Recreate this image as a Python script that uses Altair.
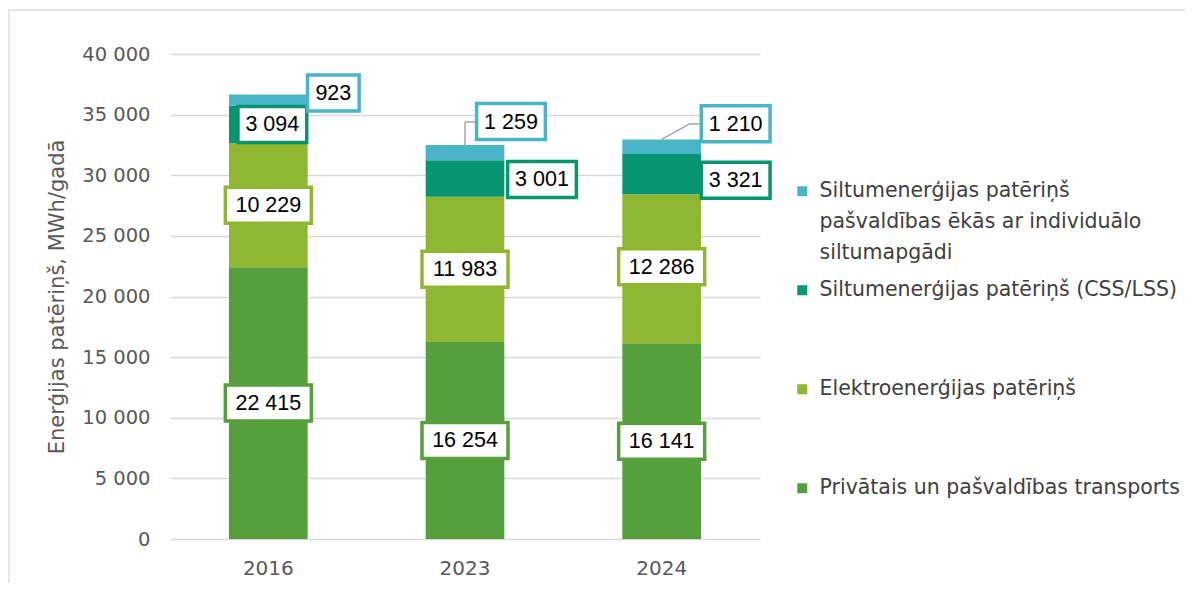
import altair as alt
import pandas as pd

# ---------------- data ----------------
years = ["2016", "2023", "2024"]
series_names = [
    "Privātais un pašvaldības transports",
    "Elektroenerģijas patēriņš",
    "Siltumenerģijas patēriņš (CSS/LSS)",
    "Siltumenerģijas patēriņš pašvaldības ēkās ar individuālo siltumapgādi",
]
transport = [22415, 16254, 16141]
electricity = [10229, 11983, 12286]
heat_district = [3094, 3001, 3321]
heat_individual = [923, 1259, 1210]
y_ticks = [0, 5000, 10000, 15000, 20000, 25000, 30000, 35000, 40000]
y_title = "Enerģijas patēriņš, MWh/gadā"

# ---------------- styles ----------------
series_colors = ["#55a03c", "#8fb731", "#089672", "#4bb5c8"]
legend_order = [3, 2, 1, 0]
label_offsets = {  # pixel offsets of value boxes (x, y)
    ("2016", 2): (4, 0),
    ("2016", 3): (65, -7),
    ("2023", 2): (77, 1),
    ("2023", 3): (46, -31),
    ("2024", 1): (0, -2),
    ("2024", 2): (74, 6),
    ("2024", 3): (74, -23),
}
leaders = {  # leader line segments for top labels: (x0, y0, x1, y1) pixel offsets from bar top
    "2023": [(0, 0, 0, -23), (0, -23, 10, -23)],
    "2024": [(0, 0, 28, -15.5), (28, -15.5, 38, -15.5)],
}
FONT = "Liberation Sans"
AXIS_FONT = "DejaVu Sans"
LEGEND_FONT = "DejaVu Sans"

values = [transport, electricity, heat_district, heat_individual]
rows = []
for yi, year in enumerate(years):
    base = 0
    for si, name in enumerate(series_names):
        v = values[si][yi]
        lab = f"{v:,}".replace(",", " ")
        nd = sum(c.isdigit() for c in lab)
        hw = 8.6 * nd
        hh = 18
        rows.append(dict(
            year=year, series=name, order=si, value=v, start=base, end=base + v,
            mid=base + v / 2, label=lab,
            path=f"M{-hw},{-hh}H{hw}V{hh}H{-hw}Z",
        ))
        base += v
df = pd.DataFrame(rows)
totals = df.groupby("year", as_index=False)["end"].max().rename(columns={"end": "total"})

color_domain = [series_names[i] for i in legend_order]
color_range = [series_colors[i] for i in legend_order]
color_scale = alt.Scale(domain=color_domain, range=color_range)

x_scale = alt.Scale(domain=years, paddingInner=0.6, paddingOuter=0.3)
y_scale = alt.Scale(domain=[0, 40000], nice=False)

long_name = series_names[3]
legend_expr = (
    f"datum.label == '{long_name}' ? "
    "['Siltumenerģijas patēriņš', 'pašvaldības ēkās ar individuālo', 'siltumapgādi'] : "
    "[datum.label, '', '']"
)

bars = alt.Chart(df).mark_bar().encode(
    x=alt.X("year:N", scale=x_scale, title=None,
            axis=alt.Axis(labelAngle=0, domain=False, ticks=False, labelFont=AXIS_FONT,
                          labelFontSize=20, labelColor="#595959", labelPadding=19)),
    y=alt.Y("start:Q", scale=y_scale, title=y_title,
            axis=alt.Axis(values=y_ticks, domain=False, ticks=False, labelFont=AXIS_FONT,
                          labelFontSize=19.5, labelColor="#595959", labelPadding=20,
                          gridColor="#d9d9d9", gridWidth=1.5,
                          labelExpr="replace(format(datum.value, ','), ',', ' ')",
                          titleFont=AXIS_FONT, titleFontSize=21, titleFontWeight="normal",
                          titleColor="#595959", titlePadding=14)),
    y2="end:Q",
    color=alt.Color("series:N", scale=color_scale, sort=color_domain,
                    legend=alt.Legend(orient="none", legendX=622, legendY=127, title=None,
                                      symbolType="square", symbolSize=100,
                                      symbolStrokeWidth=0, labelExpr=legend_expr,
                                      labelLimit=600, labelFont=LEGEND_FONT,
                                      labelFontSize=20.5, labelColor="#404040",
                                      labelOffset=7, rowPadding=16)),
)

layers = [bars]

# leader lines
for year, segs in leaders.items():
    for (x0, y0, x1, y1) in segs:
        layers.append(
            alt.Chart(totals).transform_filter(alt.datum.year == year)
            .mark_rule(color="#a6a6a6", strokeWidth=1.5,
                       xOffset=x0, yOffset=y0, x2Offset=x1, y2Offset=y1)
            .encode(x=alt.X("year:N", scale=x_scale), x2="year:N",
                    y=alt.Y("total:Q", scale=y_scale), y2="total:Q")
        )

# value boxes and texts
for r in rows:
    dx, dy = label_offsets.get((r["year"], r["order"]), (0, 0))
    sub = alt.Chart(df).transform_filter(
        (alt.datum.year == r["year"]) & (alt.datum.order == r["order"])
    )
    layers.append(
        sub.mark_point(filled=True, fill="white", size=4, strokeWidth=3.5, opacity=1,
                       fillOpacity=1, strokeOpacity=1, xOffset=dx, yOffset=dy)
        .encode(x=alt.X("year:N", scale=x_scale), y=alt.Y("mid:Q", scale=y_scale),
                shape=alt.Shape("path:N", scale=None),
                stroke=alt.Stroke("series:N", scale=color_scale, legend=None))
    )
    layers.append(
        sub.mark_text(font=FONT, fontSize=21.5, color="black", align="center",
                      baseline="middle", xOffset=dx, yOffset=dy + 1)
        .encode(x=alt.X("year:N", scale=x_scale), y=alt.Y("mid:Q", scale=y_scale),
                text="label:N")
    )

# outer frame (left and top edges)
frame_src = alt.Chart(pd.DataFrame({"k": [0]}))
layers.append(frame_src.mark_rule(color="#dcdcdc", strokeWidth=1.5).encode(
    x=alt.value(-161), y=alt.value(-44), y2=alt.value(600)))
layers.append(frame_src.mark_rule(color="#dcdcdc", strokeWidth=1.5).encode(
    x=alt.value(-161), x2=alt.value(1100), y=alt.value(-44)))

chart = alt.layer(*layers).properties(
    width=590, height=485,
    autosize=alt.AutoSizeParams(type="none"),
    padding={"left": 162, "top": 46, "right": 425, "bottom": 44},
).configure(style={"guide-label": {"lineHeight": 31}}).configure_view(strokeWidth=0)

chart.save("out.html", embed_options={"renderer": "svg", "actions": False})
